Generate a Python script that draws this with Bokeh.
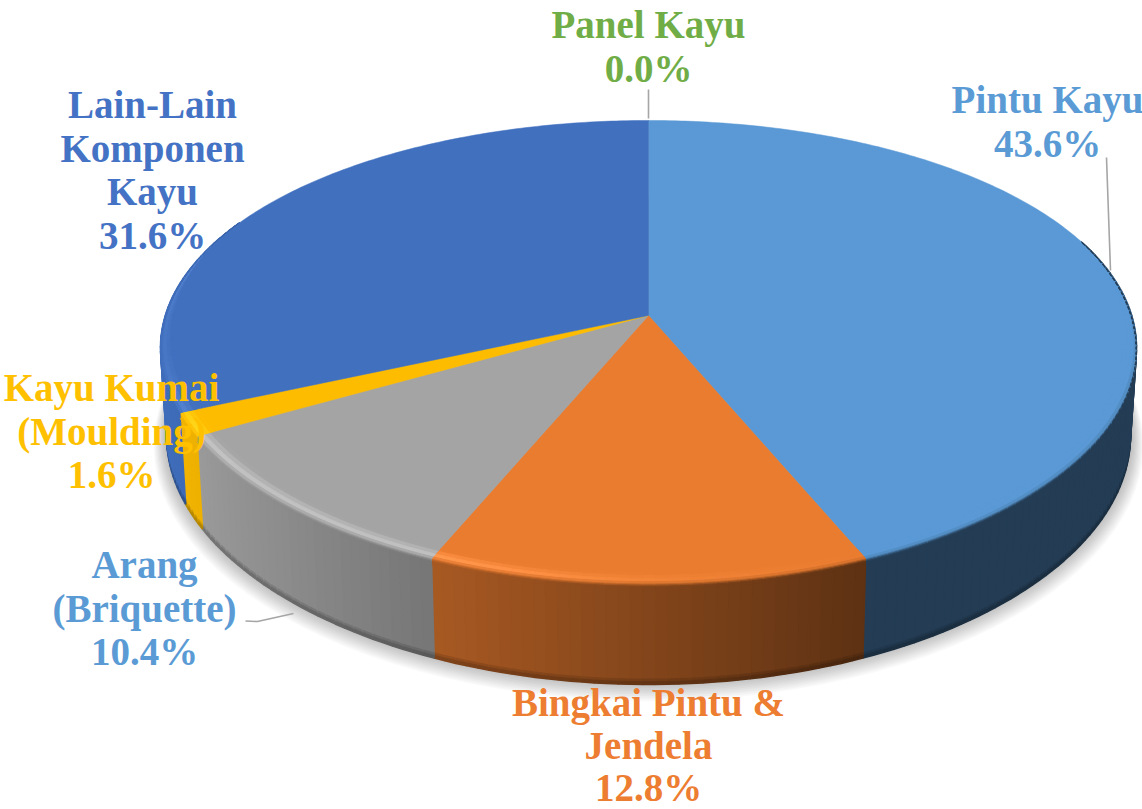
import numpy as np
from bokeh.plotting import figure
from bokeh.models import Range1d, ColumnDataSource
from bokeh.core.properties import value
from bokeh.embed import file_html
from bokeh.resources import INLINE

# ---- data ----
categories = ["Pintu Kayu", "Bingkai Pintu & Jendela", "Arang (Briquette)",
              "Kayu Kumai (Moulding)", "Lain-Lain Komponen Kayu", "Panel Kayu"]
shares = [43.6, 12.8, 10.4, 1.6, 31.6, 0.0]
slice_colors = ["#5A99D5", "#EA7C30", "#A4A4A4", "#FDBC00", "#4170BF", "#70AD47"]
label_colors = ["#5B9BD5", "#ED7D31", "#5B9BD5", "#FFC000", "#4472C4", "#70AD47"]
label_lines = [["Pintu Kayu"], ["Bingkai Pintu &", "Jendela"], ["Arang", "(Briquette)"],
               ["Kayu Kumai", "(Moulding)"], ["Lain-Lain", "Komponen", "Kayu"], ["Panel Kayu"]]

# ---- layout (reference pixels) ----
FONT = "Liberation Serif"
FONT_SIZE = "39px"
label_gap = [43.7, 42.5, 43.7, 43.7, 43.7, 43.7]
label_anchor = [(1047, 99), (648, 702), (144, 564), (111, 387), (152, 104), (648, 24)]
leaders = [([1106, 1110], [157, 270]), ([245, 257, 293], [620.5, 621, 613]), ([648, 648], [89, 118])]
CX = 648.0
K = 0.1577
KX = 0.14
TOP = dict(a=483.2, b=225.8, y0=315.0)
BOT = dict(a=477.2, b=237.9, y0=401.5)


def project(theta, r=1.0, level=0.0):
    u, v = r * np.sin(theta), -r * np.cos(theta)
    a = TOP["a"] + (BOT["a"] - TOP["a"]) * level
    b = TOP["b"] + (BOT["b"] - TOP["b"]) * level
    y0 = TOP["y0"] + (BOT["y0"] - TOP["y0"]) * level
    return CX + a * u / (1 - KX * v), y0 + b * v / (1 - K * v)


def rgb(h):
    return np.array([int(h[i:i + 2], 16) for i in (1, 3, 5)], dtype=float)


def hexc(c):
    c = np.clip(np.round(c), 0, 255).astype(int)
    return "#%02x%02x%02x" % tuple(c)


def light(x):
    return np.interp(x, [165, 210, 300, 432, 862, 1140], [0.98, 0.93, 0.84, 0.72, 0.40, 0.40])


def glow(x):
    return np.interp(x, [165, 205, 440, 660, 860], [6, 30, 28, 8, 0])


edges = np.radians(np.cumsum([0] + shares) * 3.6)

p = figure(width=1142, height=809, x_range=Range1d(0, 1142), y_range=Range1d(809, 0),
           x_axis_type=None, y_axis_type=None, toolbar_location=None,
           output_backend="svg", min_border=0, outline_line_color=None,
           background_fill_color="white", border_fill_color="white")
p.grid.visible = False

# soft shadow under the pie
ring = np.radians(np.arange(0, 361, 3))
for i in range(12):
    grow = 1 + 0.0022 * (12 - i)
    sx, sy = project(ring, grow, 1.0)
    p.patch(sx, sy + 0.9 * (12 - i) - 3, fill_color="#000000", fill_alpha=0.022, line_color=None)

# side wall and rounded rim, built as fine strips per slice
WALL_FROM, WALL_TO = np.radians(70), np.radians(296)
STEP = np.radians(1.25)
wall_levels = [(0.0, 0.95, 1.0), (0.95, 0.975, 0.88), (0.975, 1.0, 0.76)]
rim_t = [-0.036, -0.026, -0.016, -0.006, 0.004, 0.014, 0.026, 0.04, 0.06]

wx, wy, wc = [], [], []
rx, ry, rc = [], [], []


def rim_point(th, t, w):
    t = t * w
    if t <= 0:
        return project(th, 1 + t, 0.0)
    return project(th, 1.0, t)


for s in range(len(shares)):
    lo, hi = max(edges[s], WALL_FROM), min(edges[s + 1], WALL_TO)
    if hi <= lo:
        continue
    n = max(1, int(np.ceil((hi - lo) / STEP)))
    ths = np.linspace(lo, hi, n + 1)
    order = sorted(range(n), key=lambda i: abs(ths[i] - np.pi))[::-1]
    top_col = rgb(slice_colors[s])
    for i in order:
        a, b = ths[i], ths[i + 1]
        mid_x = project((a + b) / 2, 1.0, 1.0)[0]
        f = float(light(mid_x))
        wall_col = top_col * f
        for l0, l1, dark in wall_levels:
            xa0, ya0 = project(a, 1.0, l0)
            xb0, yb0 = project(b, 1.0, l0)
            xb1, yb1 = project(b, 1.0, l1)
            xa1, ya1 = project(a, 1.0, l1)
            wx.append([xa0, xb0, xb1, xa1])
            wy.append([ya0, yb0, yb1, ya1])
            wc.append(hexc(wall_col * dark))
        vm = -np.cos((a + b) / 2)
        w = float(np.clip((vm + 0.34) / 0.66, 0.0, 1.0))
        g = float(glow(mid_x))
        for j in range(len(rim_t) - 1):
            t0, t1 = rim_t[j], rim_t[j + 1]
            tm = (t0 + t1) / 2
            mix = np.clip((tm + 0.012) / 0.05, 0, 1)
            mix = mix * mix * (3 - 2 * mix)
            bump = np.exp(-((tm + 0.012) / 0.011) ** 2)
            col = top_col * (1 - mix) + wall_col * mix + g * bump
            p0 = rim_point(a, t0, w)
            p1 = rim_point(b, t0, w)
            p2 = rim_point(b, t1, w)
            p3 = rim_point(a, t1, w)
            rx.append([p0[0], p1[0], p2[0], p3[0]])
            ry.append([p0[1], p1[1], p2[1], p3[1]])
            rc.append(hexc(col))

src_wall = ColumnDataSource(dict(xs=wx, ys=wy, c=wc))
p.patches("xs", "ys", source=src_wall, fill_color="c", line_color="c", line_width=1.6)

# top face
for s in range(len(shares)):
    if shares[s] <= 0:
        continue
    ths = np.linspace(edges[s], edges[s + 1], max(3, int(shares[s] * 5)))
    ex, ey = project(ths)
    xs = np.concatenate([[CX], ex])
    ys = np.concatenate([[TOP["y0"]], ey])
    p.patch(xs, ys, fill_color=slice_colors[s], line_color=slice_colors[s], line_width=0.5)

src_rim = ColumnDataSource(dict(xs=rx, ys=ry, c=rc))
p.patches("xs", "ys", source=src_rim, fill_color="c", line_color="c", line_width=1.0)

# leader lines
for lx, ly in leaders:
    p.line(lx, ly, line_color="#A6A6A6", line_width=1.6)

# labels
tx, ty, tt, tc = [], [], [], []
for s in range(len(shares)):
    ax, ay = label_anchor[s]
    lines = label_lines[s] + [f"{shares[s]:.1f}%"]
    for i, line in enumerate(lines):
        tx.append(ax)
        ty.append(ay + i * label_gap[s])
        tt.append(line)
        tc.append(label_colors[s])
p.text(tx, ty, text=tt, text_color=tc, text_font=value(FONT), text_font_size=value(FONT_SIZE),
       text_font_style="bold", text_align="center", text_baseline="middle")

open("out.html", "w").write(file_html(p, INLINE))
